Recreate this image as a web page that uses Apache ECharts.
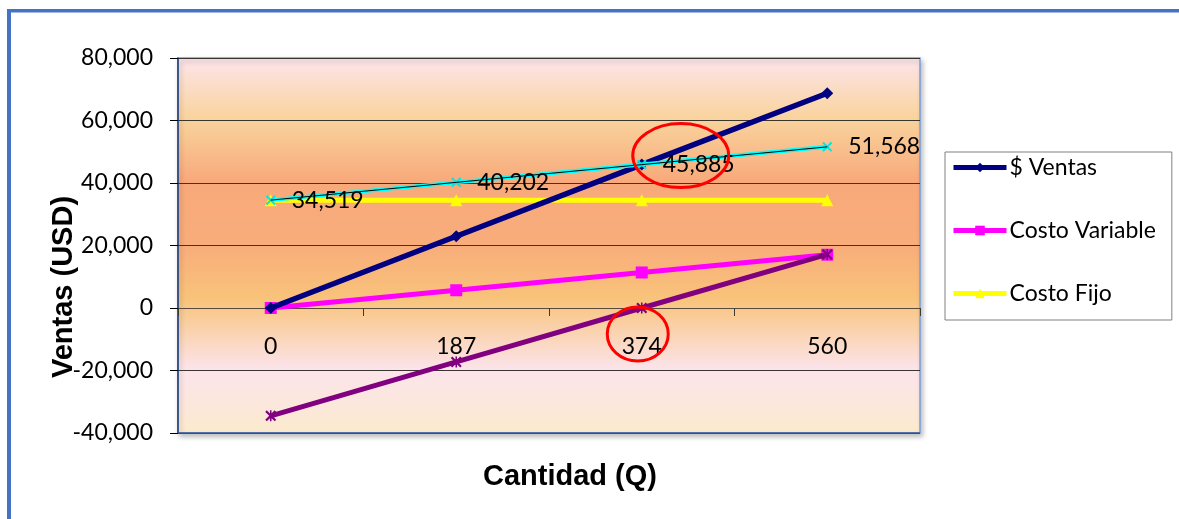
<!DOCTYPE html>
<html>
<head>
<meta charset="utf-8">
<script src="https://cdn.jsdelivr.net/npm/echarts@6/dist/echarts.min.js"></script>
<style>
html,body{margin:0;padding:0;background:#fff;}
#chart{width:1179px;height:519px;}
</style>
</head>
<body>
<div id="chart"></div>
<script>
// ---- data ----
const categories = ['0', '187', '374', '560'];
const ventas = [0, 22945, 45885, 68712];
const costoVariable = [0, 5683, 11366, 17049];
const costoFijo = [34519, 34519, 34519, 34519];
const costoTotal = [34519, 40202, 45885, 51568];
const utilidad = [-34519, -17257, 0, 17144];
const yTicks = { min: -40000, max: 80000, interval: 20000 };

const FONT = 'Lato';
const fmt = v => Number(v).toLocaleString('en-US');
const xMark = 'path://M0,1.4L1.4,0L5,3.6L8.6,0L10,1.4L6.4,5L10,8.6L8.6,10L5,6.4L1.4,10L0,8.6L3.6,5Z';
const starMark = 'path://M0,1.4L1.4,0L5,3.6L8.6,0L10,1.4L6.4,5L10,8.6L8.6,10L5,6.4L1.4,10L0,8.6L3.6,5Z M4.3,0L5.7,0L5.7,10L4.3,10Z';

const chart = echarts.init(document.getElementById('chart'), null, {renderer: 'canvas'});

const option = {
  animation: false,
  backgroundColor: '#ffffff',
  textStyle: { fontFamily: FONT },
  grid: {
    left: 178, top: 58, right: 259, bottom: 86,
    show: true,
    borderColor: '#7A9FDB',
    borderWidth: 1.5,
    shadowBlur: 5, shadowOffsetX: 2, shadowOffsetY: 3, shadowColor: 'rgba(0,0,0,0.25)',
    backgroundColor: new echarts.graphic.LinearGradient(0, 0, 0, 1, [
      { offset: 0, color: '#FDE5EC' },
      { offset: 0.165, color: '#F9D39C' },
      { offset: 0.33, color: '#F8A97B' },
      { offset: 0.5, color: '#F8AD7A' },
      { offset: 0.64, color: '#F8C37A' },
      { offset: 0.83, color: '#FCE4EC' },
      { offset: 1, color: '#FBEACD' }
    ])
  },
  legend: {
    orient: 'vertical',
    left: 945, top: 152,
    data: ['$ Ventas', 'Costo Variable', 'Costo Fijo'],
    itemWidth: 53, itemHeight: 12, itemGap: 40,
    padding: [4, 16, 15, 6],
    borderColor: '#808080', borderWidth: 1,
    backgroundColor: '#ffffff',
    lineStyle: { width: 5 },
    textStyle: { fontFamily: FONT, fontSize: 23, color: '#000', padding: [0, 0, 0, -2] },
    selectedMode: false
  },
  xAxis: {
    type: 'category',
    data: categories,
    boundaryGap: true,
    axisLine: { onZero: true, lineStyle: { color: '#5B4A3A', width: 1.2 } },
    axisTick: { show: true, inside: false, length: 8, lineStyle: { color: '#3A3A3A' } },
    axisLabel: { fontFamily: FONT, fontSize: 23, color: '#000', margin: -98 },
    splitLine: { show: false }
  },
  yAxis: {
    type: 'value',
    min: yTicks.min, max: yTicks.max, interval: yTicks.interval,
    axisLine: { show: true, lineStyle: { color: '#1F3A70', width: 1.5 } },
    axisTick: { show: true, inside: false, length: 8, lineStyle: { color: '#000' } },
    axisLabel: { fontFamily: FONT, fontSize: 23, color: '#000', margin: 25, formatter: v => fmt(v) },
    splitLine: { show: true, lineStyle: { color: '#3B3530', width: 1.2 } }
  },
  series: [
    {
      name: 'Costo Fijo', type: 'line', data: costoFijo,
      symbol: 'triangle', symbolSize: 12, showAllSymbol: true,
      lineStyle: { color: '#FFFF00', width: 5 },
      itemStyle: { color: '#FFFF00' }, z: 2
    },
    {
      name: 'Costo Variable', type: 'line', data: costoVariable,
      symbol: 'rect', symbolSize: 12,
      lineStyle: { color: '#FF00FF', width: 5 },
      itemStyle: { color: '#FF00FF' }, z: 3
    },
    {
      name: '$ Ventas', type: 'line', data: ventas,
      symbol: 'diamond', symbolSize: 12,
      lineStyle: { color: '#000080', width: 5.5 },
      itemStyle: { color: '#000080' }, z: 4
    },
    {
      name: 'Costo Total', type: 'line', data: costoTotal,
      symbol: xMark, symbolSize: 10,
      lineStyle: { color: '#00FFFF', width: 4 },
      itemStyle: { color: '#00E5E5' }, z: 5,
      label: {
        show: true, position: 'right', distance: 16,
        fontFamily: FONT, fontSize: 23, color: '#000',
        formatter: p => fmt(p.value)
      }
    },
    {
      name: 'Costo Total linea', type: 'line', data: costoTotal,
      symbol: 'none',
      lineStyle: { color: '#000000', width: 1 }, z: 6, silent: true
    },
    {
      name: 'Utilidad', type: 'line', data: utilidad,
      symbol: starMark, symbolSize: 11,
      lineStyle: { color: '#800080', width: 5 },
      itemStyle: { color: '#800080' }, z: 7
    }
  ]
};
chart.setOption(option);

// titles, frame, plot bottom edge and annotation ellipses
const p1 = chart.convertToPixel({xAxisIndex: 0, yAxisIndex: 0}, [2, costoTotal[2]]);
const p2 = chart.convertToPixel({xAxisIndex: 0, yAxisIndex: 0}, [2, 0]);
const rect = chart.getModel().getComponent('grid').coordinateSystem.getRect();
chart.setOption({
  graphic: [
    { type: 'rect', shape: { x: 7, y: 9, width: 4, height: 520 }, style: { fill: '#4472C4' }, z: 100 },
    { type: 'rect', shape: { x: 7, y: 9, width: 1180, height: 3.5 }, style: { fill: '#4472C4' }, z: 100 },
    { type: 'line', shape: { x1: rect.x, y1: rect.y + rect.height, x2: rect.x + rect.width, y2: rect.y + rect.height },
      style: { stroke: '#3A5A9A', lineWidth: 1.5 }, z: 100 },
    { type: 'text', x: 64, y: 287, rotation: Math.PI / 2,
      style: { text: 'Ventas (USD)', fontFamily: 'Liberation Sans', fontWeight: 'bold', fontSize: 29, fill: '#000', align: 'center', verticalAlign: 'middle' }, z: 100 },
    { type: 'text', x: 570, y: 477,
      style: { text: 'Cantidad (Q)', fontFamily: 'Liberation Sans', fontWeight: 'bold', fontSize: 29, fill: '#000', align: 'center', verticalAlign: 'middle' }, z: 100 },
    { type: 'ellipse', shape: { cx: p1[0] + 39, cy: p1[1] - 9, rx: 48, ry: 32 },
      style: { fill: 'none', stroke: '#FF0000', lineWidth: 3 }, z: 100 },
    { type: 'ellipse', shape: { cx: p2[0] - 4, cy: p2[1] + 26, rx: 30.5, ry: 27 },
      style: { fill: 'none', stroke: '#FF0000', lineWidth: 3 }, z: 100 }
  ]
});
</script>
</body>
</html>
